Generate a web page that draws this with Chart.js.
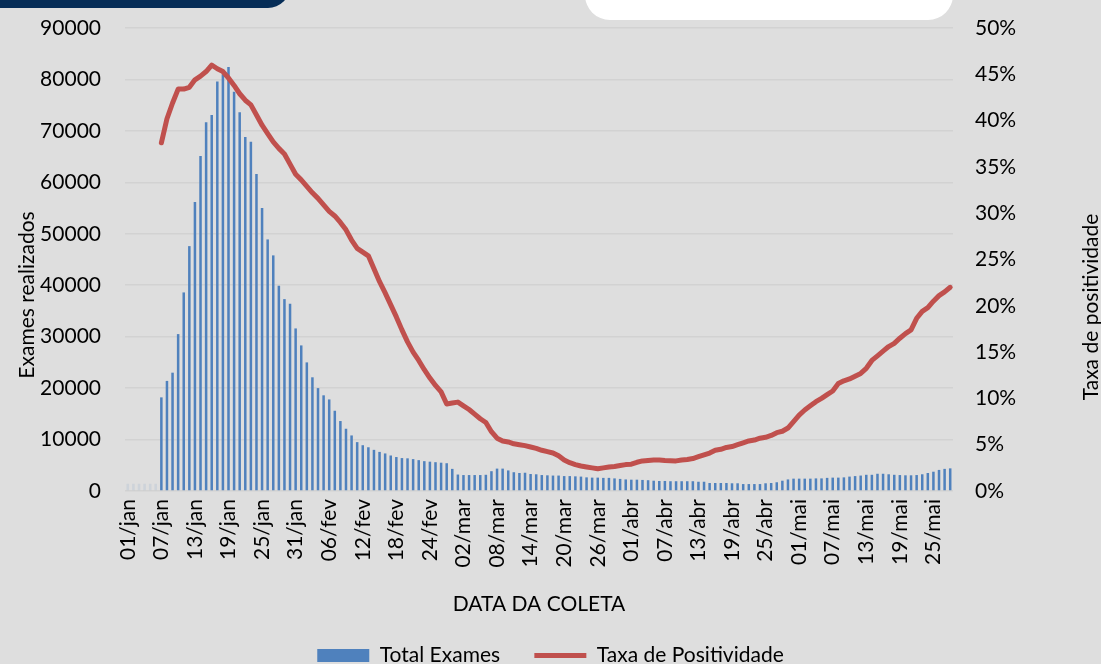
<!DOCTYPE html>
<html>
<head>
<meta charset="utf-8">
<script src="https://cdn.jsdelivr.net/npm/chart.js@4.4.1/dist/chart.umd.min.js"></script>
<style>
  html, body { margin: 0; padding: 0; background: #dedede; overflow: hidden; }
  #wrap { position: relative; width: 1101px; height: 664px; }
  #navy { position: absolute; left: -20px; top: -30px; width: 310px; height: 38px; background: #062d57; border-bottom-right-radius: 22px; }
  #white { position: absolute; left: 585px; top: -30px; width: 368px; height: 50px; background: #fff; border-radius: 30px; }
  canvas { position: absolute; left: 0; top: 0; }
</style>
</head>
<body>
<div id="wrap">
  <canvas id="chart" width="1101" height="664"></canvas>
  <div id="navy"></div>
  <div id="white"></div>
</div>
<script>
// months shown on the x axis and how many days of each are in the data
const monthNames = ['jan', 'fev', 'mar', 'abr', 'mai'];
const monthDays = [31, 28, 31, 30, 28];

// Total Exames per day (01/jan .. 28/mai)
const totalExames = [
    1400, 1400, 1400, 1400, 1400, 1400, 18200, 21400, 23000, 30500,
    38600, 47600, 56200, 65100, 71700, 73100, 79600, 81000, 82400, 77600,
    73600, 68800, 67900, 61600, 55000, 48900, 45800, 39900, 37300, 36400,
    31600, 28300, 25000, 22100, 20000, 18600, 17800, 15600, 13600, 12100,
    10800, 9500, 8900, 8500, 8000, 7600, 7300, 6900, 6600, 6400,
    6350, 6200, 6000, 5800, 5700, 5600, 5500, 5400, 4300, 3200,
    3100, 3100, 3100, 3100, 3150, 3850, 4350, 4350, 4000, 3650,
    3500, 3550, 3300, 3250, 3100, 3050, 3000, 3000, 2900, 2900,
    2850, 2800, 2650, 2600, 2600, 2550, 2550, 2450, 2350, 2250,
    2200, 2200, 2150, 2100, 2000, 1950, 1950, 1900, 1900, 1900,
    1900, 1900, 1800, 1800, 1550, 1550, 1550, 1550, 1500, 1500,
    1350, 1350, 1350, 1350, 1500, 1550, 1700, 2000, 2250, 2400,
    2400, 2400, 2400, 2450, 2450, 2550, 2600, 2600, 2650, 2800,
    2900, 3000, 3150, 3150, 3350, 3350, 3250, 3150, 3100, 3050,
    3050, 3100, 3250, 3500, 3750, 4100, 4300, 4400
];

// Taxa de Positividade (%) per day, no value before 07/jan
const taxaPositividade = [
    null, null, null, null, null, null, 37.6, 40.2, 41.9, 43.4,
    43.4, 43.6, 44.4, 44.8, 45.3, 46.0, 45.6, 45.3, 44.6, 43.8,
    42.9, 42.2, 41.7, 40.6, 39.5, 38.6, 37.7, 37.0, 36.4, 35.3,
    34.2, 33.6, 32.9, 32.2, 31.6, 30.9, 30.2, 29.7, 29.0, 28.2,
    27.1, 26.2, 25.8, 25.4, 24.0, 22.6, 21.4, 20.1, 18.8, 17.4,
    16.1, 15.0, 14.1, 13.1, 12.2, 11.4, 10.7, 9.4, 9.5, 9.6,
    9.2, 8.8, 8.3, 7.8, 7.4, 6.4, 5.7, 5.4, 5.3, 5.1,
    5.0, 4.9, 4.75, 4.6, 4.4, 4.25, 4.1, 3.8, 3.35, 3.06,
    2.85, 2.7, 2.6, 2.5, 2.4, 2.5, 2.6, 2.65, 2.75, 2.85,
    2.9, 3.1, 3.25, 3.3, 3.35, 3.35, 3.3, 3.27, 3.25, 3.35,
    3.4, 3.5, 3.7, 3.9, 4.1, 4.4, 4.5, 4.7, 4.8, 5.0,
    5.2, 5.4, 5.5, 5.7, 5.8, 6.0, 6.3, 6.45, 6.8, 7.5,
    8.2, 8.75, 9.2, 9.65, 10.0, 10.4, 10.8, 11.6, 11.9, 12.1,
    12.4, 12.7, 13.25, 14.1, 14.6, 15.1, 15.6, 15.95, 16.5, 17.0,
    17.4, 18.65, 19.4, 19.8, 20.5, 21.1, 21.5, 22.0
];

// category labels dd/mmm
const labels = [];
monthNames.forEach((m, mi) => {
    for (let d = 1; d <= monthDays[mi]; d++) {
        labels.push(String(d).padStart(2, '0') + '/' + m);
    }
});

const FONT = 'Lato, "Liberation Sans", sans-serif';
const TXT = '#000000';
const BLUE = '#4f81bd';
const RED = '#c0504d';

// rotated axis titles (both read bottom to top, like the original)
const sideTitles = {
    id: 'sideTitles',
    afterDraw(chart) {
        const c = chart.ctx;
        c.save();
        c.fillStyle = TXT;
        c.font = '21px ' + FONT;
        c.textAlign = 'center';
        c.textBaseline = 'middle';
        [['Exames realizados', 27, 295], ['Taxa de positividade', 1091, 307]].forEach(([t, x, y]) => {
            c.save();
            c.translate(x, y);
            c.rotate(-Math.PI / 2);
            c.fillText(t, 0, 0);
            c.restore();
        });
        c.restore();
    }
};

Chart.defaults.font.family = FONT;
Chart.defaults.font.size = 21;
Chart.defaults.color = TXT;

new Chart(document.getElementById('chart'), {
    type: 'bar',
    data: {
        labels: labels,
        datasets: [{
            label: 'Total Exames',
            data: totalExames,
            yAxisID: 'y',
            order: 1,
            // the first days (before 07/jan) are barely visible in the original
            backgroundColor: totalExames.map((v, i) => i < 6 ? 'rgba(79,129,189,0.12)' : BLUE),
            barPercentage: 0.45,
            categoryPercentage: 1,
            pointStyle: 'rect'
        }, {
            type: 'line',
            label: 'Taxa de Positividade',
            data: taxaPositividade,
            yAxisID: 'y1',
            order: 0,
            borderColor: RED,
            backgroundColor: RED,
            borderWidth: 5,
            pointRadius: 0,
            tension: 0,
            borderCapStyle: 'round',
            borderJoinStyle: 'round',
            pointStyle: 'line'
        }]
    },
    options: {
        responsive: false,
        animation: false,
        layout: { padding: { top: 28, left: 0, right: 0, bottom: -12 } },
        plugins: {
            legend: {
                position: 'bottom',
                labels: {
                    usePointStyle: true,
                    pointStyleWidth: 52,
                    boxHeight: 13,
                    padding: 2,
                    color: TXT,
                    font: { size: 21 },
                    generateLabels(chart) {
                        const items = Chart.defaults.plugins.legend.labels.generateLabels(chart);
                        items.sort((a, b) => a.datasetIndex - b.datasetIndex);
                        items.forEach(it => {
                            if (it.datasetIndex === 0) {
                                it.text = it.text + '      ';
                                it.fillStyle = BLUE;
                                it.strokeStyle = BLUE;
                                it.lineWidth = 0;
                            } else {
                                it.strokeStyle = RED;
                                it.lineWidth = 5;
                            }
                        });
                        return items;
                    }
                }
            },
            tooltip: { enabled: false }
        },
        scales: {
            x: {
                grid: { display: false, drawTicks: false },
                border: { display: false },
                ticks: {
                    autoSkip: false,
                    minRotation: 90,
                    maxRotation: 90,
                    padding: 8,
                    callback: function (v, i) { return i % 6 === 0 ? this.getLabelForValue(v) : ''; }
                },
                title: { display: true, text: 'DATA DA COLETA', padding: { top: 0, bottom: 26 } },
                afterFit(scale) { scale.height = 152; }
            },
            y: {
                position: 'left',
                min: 0,
                max: 90000,
                ticks: { stepSize: 10000, padding: 0, callback: v => String(v) },
                // invisible tick marks give the gap between labels and plot
                grid: { color: '#d2d2d2', lineWidth: 1.5, drawTicks: true, tickLength: 24, tickColor: 'rgba(0,0,0,0)' },
                border: { display: false },
                afterFit(scale) { scale.width = 125; }
            },
            y1: {
                position: 'right',
                min: 0,
                max: 50,
                ticks: { stepSize: 5, padding: 0, callback: v => v + '%' },
                grid: { display: false, drawTicks: true, tickLength: 22 },
                border: { display: false },
                afterFit(scale) { scale.width = 148; }
            }
        }
    },
    plugins: [sideTitles]
});
</script>
</body>
</html>
